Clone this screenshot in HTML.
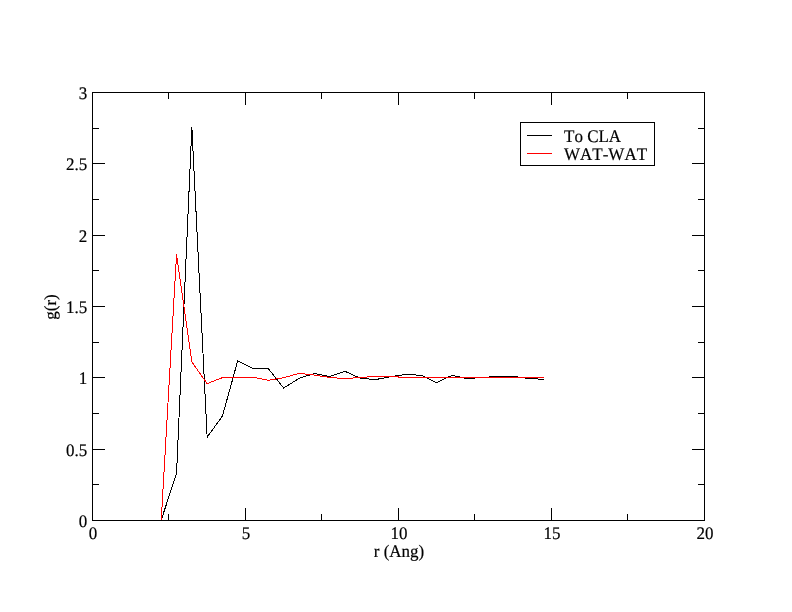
<!DOCTYPE html>
<html><head><meta charset="utf-8"><style>
html,body{margin:0;padding:0;background:#fff;}
body{width:792px;height:612px;overflow:hidden;}
svg{display:block;}
text{text-rendering:geometricPrecision;font-family:"Liberation Serif",serif;font-size:17px;fill:#000;stroke:#000;stroke-width:0.2px;font-kerning:none;font-feature-settings:"kern" 0;}
.t{opacity:0.999;}
</style></head><body>
<svg width="792" height="612" viewBox="0 0 792 612">
<rect width="792" height="612" fill="#fff"/>
<g shape-rendering="crispEdges">
<rect x="92.5" y="92.5" width="612" height="428" fill="none" stroke="#000" stroke-width="1"/>
<path d="M92.5 521 v-13 M92.5 92 v13" stroke="#000" stroke-width="1"/>
<path d="M168.5 521 v-7 M168.5 92 v7" stroke="#000" stroke-width="1"/>
<path d="M245.5 521 v-13 M245.5 92 v13" stroke="#000" stroke-width="1"/>
<path d="M321.5 521 v-7 M321.5 92 v7" stroke="#000" stroke-width="1"/>
<path d="M398.5 521 v-13 M398.5 92 v13" stroke="#000" stroke-width="1"/>
<path d="M474.5 521 v-7 M474.5 92 v7" stroke="#000" stroke-width="1"/>
<path d="M551.5 521 v-13 M551.5 92 v13" stroke="#000" stroke-width="1"/>
<path d="M627.5 521 v-7 M627.5 92 v7" stroke="#000" stroke-width="1"/>
<path d="M704.5 521 v-13 M704.5 92 v13" stroke="#000" stroke-width="1"/>
<path d="M92 520.5 h13 M705 520.5 h-13" stroke="#000" stroke-width="1"/>
<path d="M92 484.5 h7 M705 484.5 h-7" stroke="#000" stroke-width="1"/>
<path d="M92 449.5 h13 M705 449.5 h-13" stroke="#000" stroke-width="1"/>
<path d="M92 413.5 h7 M705 413.5 h-7" stroke="#000" stroke-width="1"/>
<path d="M92 377.5 h13 M705 377.5 h-13" stroke="#000" stroke-width="1"/>
<path d="M92 342.5 h7 M705 342.5 h-7" stroke="#000" stroke-width="1"/>
<path d="M92 306.5 h13 M705 306.5 h-13" stroke="#000" stroke-width="1"/>
<path d="M92 270.5 h7 M705 270.5 h-7" stroke="#000" stroke-width="1"/>
<path d="M92 235.5 h13 M705 235.5 h-13" stroke="#000" stroke-width="1"/>
<path d="M92 199.5 h7 M705 199.5 h-7" stroke="#000" stroke-width="1"/>
<path d="M92 163.5 h13 M705 163.5 h-13" stroke="#000" stroke-width="1"/>
<path d="M92 128.5 h7 M705 128.5 h-7" stroke="#000" stroke-width="1"/>
<path d="M92 92.5 h13 M705 92.5 h-13" stroke="#000" stroke-width="1"/>
</g>
<g fill="none" stroke-width="1" stroke-linejoin="miter" shape-rendering="crispEdges">
<polyline points="161.25,520.00 176.55,473.30 191.85,127.20 207.15,437.20 222.45,416.00 237.75,360.70 253.05,368.60 268.35,368.60 283.65,388.10 298.95,378.40 314.25,373.50 329.55,376.50 344.85,371.30 360.15,378.20 375.45,379.60 390.75,376.70 406.05,374.30 421.35,375.40 436.65,382.60 451.95,375.40 467.25,378.60 482.55,377.50 497.85,376.40 513.15,376.40 528.45,378.40 543.75,379.40" stroke="#000"/>
<polyline points="161.25,520.00 176.55,254.40 191.85,362.00 207.15,383.60 222.45,377.60 237.75,377.30 253.05,377.10 268.35,380.30 283.65,377.80 298.95,373.40 314.25,375.00 329.55,377.50 344.85,378.60 360.15,377.50 375.45,376.40 390.75,376.30 406.05,377.70 421.35,377.40 436.65,377.40 451.95,377.40 467.25,377.40 482.55,377.40 497.85,377.40 513.15,377.40 528.45,377.40 543.75,377.40" stroke="#f00"/>
</g>
<g shape-rendering="crispEdges">
<rect x="520.5" y="122.5" width="134" height="43" fill="none" stroke="#000"/>
<path d="M527 135.5 H552" stroke="#000"/>
<path d="M527 153.5 H552" stroke="#f00"/>
</g>
<g class="t">
<text transform="translate(93.0 538.8) scale(1 1.04)" text-anchor="middle">0</text>
<text transform="translate(246.0 538.8) scale(1 1.04)" text-anchor="middle">5</text>
<text transform="translate(399.0 538.8) scale(1 1.04)" text-anchor="middle">10</text>
<text transform="translate(552.0 538.8) scale(1 1.04)" text-anchor="middle">15</text>
<text transform="translate(705.0 538.8) scale(1 1.04)" text-anchor="middle">20</text>
<text transform="translate(87.2 527.2) scale(1 1.04)" text-anchor="end">0</text>
<text transform="translate(87.2 456.2) scale(1 1.04)" text-anchor="end">0.5</text>
<text transform="translate(87.2 384.2) scale(1 1.04)" text-anchor="end">1</text>
<text transform="translate(87.2 313.2) scale(1 1.04)" text-anchor="end">1.5</text>
<text transform="translate(87.2 242.2) scale(1 1.04)" text-anchor="end">2</text>
<text transform="translate(87.2 170.2) scale(1 1.04)" text-anchor="end">2.5</text>
<text transform="translate(87.2 99.2) scale(1 1.04)" text-anchor="end">3</text>
<text transform="translate(399 557) scale(1 1.04)" text-anchor="middle">r (Ang)</text>
<text transform="translate(564 142) scale(1 1.04)">To CLA</text>
<text transform="translate(564 160) scale(1 1.04)">WAT-WAT</text>
<text transform="translate(55.5 307) rotate(-90) scale(1 1.0)" text-anchor="middle">g(r)</text>
</g>
</svg>
</body></html>
